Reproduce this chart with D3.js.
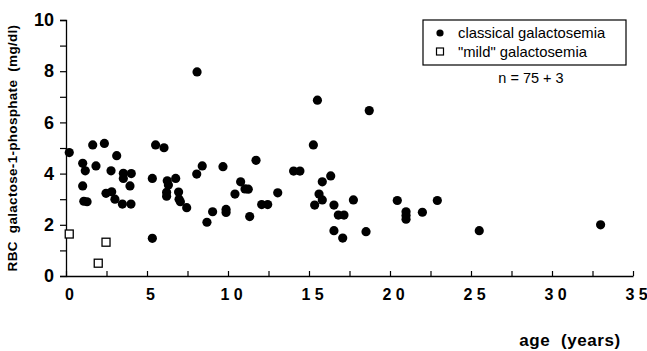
<!DOCTYPE html>
<html>
<head>
<meta charset="utf-8">
<script src="https://cdn.jsdelivr.net/npm/d3@7"></script>
<style>
  body { margin: 0; background: #fff; }
  text { font-family: "Liberation Sans", Arial, Helvetica, sans-serif; fill: #000; }
</style>
</head>
<body>
<div id="chart"></div>
<script>
// classical galactosemia (filled dots)
const classicalAge = [
  0.2, 1.03, 1.19, 1.03, 1.1, 1.3, 1.65, 1.85, 2.37, 2.47,
  2.82, 2.78, 3.13, 3.02, 3.48, 3.54, 3.54, 3.95, 4.03, 4.01,
  5.33, 5.33, 5.53, 6.05, 6.25, 6.32, 6.21, 6.21, 6.77, 6.95,
  6.98, 7.06, 7.45, 8.07, 8.09, 8.41, 8.7, 9.05, 9.69, 9.88,
  9.88, 10.43, 10.78, 11.05, 11.25, 11.34, 11.73, 12.08, 12.45, 13.07,
  14.05, 14.44, 15.27, 15.52, 15.35, 15.62, 15.82, 15.82, 16.34, 16.54,
  16.81, 17.16, 16.54, 17.08, 17.74, 18.52, 18.72, 20.45, 20.99, 20.99,
  20.99, 22.0, 22.92, 25.51, 33.0
];
const classicalValue = [
  4.82, 4.4, 4.11, 3.52, 2.92, 2.9, 5.12, 4.3, 5.18, 3.23,
  3.29, 4.11, 4.7, 3.0, 2.81, 4.01, 3.81, 3.52, 4.0, 2.81,
  3.81, 1.47, 5.12, 5.01, 3.72, 3.55, 3.27, 3.12, 3.81, 3.28,
  3.0, 2.9, 2.67, 3.98, 7.97, 4.3, 2.1, 2.51, 4.27, 2.6,
  2.48, 3.2, 3.68, 3.4, 3.39, 2.32, 4.52, 2.79, 2.79, 3.25,
  4.1, 4.1, 5.12, 6.87, 2.77, 3.2, 2.97, 3.68, 3.91, 2.77,
  2.38, 2.38, 1.77, 1.48, 2.97, 1.73, 6.46, 2.95, 2.51, 2.36,
  2.22, 2.49, 2.95, 1.77, 2.0
];
// "mild" galactosemia (open squares)
const mildAge = [0.2, 2.47, 1.99];
const mildValue = [1.64, 1.32, 0.5];

const xTickLabels = [0, 5, 10, 15, 20, 25, 30, 35];
const yTickLabels = [0, 2, 4, 6, 8, 10];
const legendLabels = ['classical galactosemia', '"mild" galactosemia'];
const nLabel = 'n = 75 + 3';

const width = 647;
const height = 351;

const svg = d3.select('#chart')
  .append('svg')
  .attr('width', width)
  .attr('height', height);

const x = d3.scaleLinear().domain([0, 35]).range([66, 633]);
const y = d3.scaleLinear().domain([0, 10]).range([276, 20]);

// y axis: ticks outward, labels on even values
const yAxis = svg.append('g')
  .attr('transform', `translate(${x(0)},0)`)
  .call(d3.axisLeft(y).tickValues(d3.range(0, 11, 1)).tickSize(6).tickFormat(d => yTickLabels.includes(d) ? d : ''));
yAxis.select('.domain').attr('stroke', '#000').attr('stroke-width', 1.3);
yAxis.selectAll('.tick line').attr('stroke', '#000').attr('stroke-width', 1.2);
yAxis.selectAll('.tick text')
  .attr('x', -12)
  .style('font-size', '18px')
  .style('font-weight', 'bold');

// x axis: ticks inward, labels every 5
const xAxis = svg.append('g')
  .attr('transform', `translate(0,${y(0)})`)
  .call(d3.axisBottom(x).tickValues(d3.range(0, 35.1, 2.5)).tickSize(-5).tickSizeOuter(0)
    .tickFormat(d => xTickLabels.includes(d) ? String(d).split('').join(' ') : ''));
xAxis.select('.domain').attr('stroke', '#000').attr('stroke-width', 1.3);
xAxis.selectAll('.tick line').attr('stroke', '#000').attr('stroke-width', 1.2);
xAxis.selectAll('.tick text')
  .attr('y', 13)
  .attr('dx', 3)
  .style('font-size', '16px')
  .style('font-weight', 'bold')
  .style('white-space', 'pre');
svg.selectAll('.tick text').attr('fill', '#000');

// axis titles
svg.append('text')
  .attr('transform', `translate(17,${(y(0) + y(10)) / 2}) rotate(-90)`)
  .attr('text-anchor', 'middle')
  .style('font-size', '13.5px')
  .style('font-weight', 'bold')
  .style('letter-spacing', '0.3px')
  .style('white-space', 'pre')
  .text('RBC  galactose-1-phosphate  (mg/dl)');

svg.append('text')
  .attr('x', 570)
  .attr('y', 346)
  .attr('text-anchor', 'middle')
  .style('font-size', '17px')
  .style('font-weight', 'bold')
  .style('letter-spacing', '0.6px')
  .style('white-space', 'pre')
  .text('age  (years)');

// points
svg.append('g')
  .selectAll('circle')
  .data(classicalAge.map((a, i) => [a, classicalValue[i]]))
  .join('circle')
  .attr('cx', d => x(d[0]))
  .attr('cy', d => y(d[1]))
  .attr('r', 4.6)
  .attr('fill', '#000');

const sq = 8;
svg.append('g')
  .selectAll('rect')
  .data(mildAge.map((a, i) => [a, mildValue[i]]))
  .join('rect')
  .attr('x', d => x(d[0]) - sq / 2)
  .attr('y', d => y(d[1]) - sq / 2)
  .attr('width', sq)
  .attr('height', sq)
  .attr('fill', '#fff')
  .attr('stroke', '#000')
  .attr('stroke-width', 1.3);

// legend
const legend = svg.append('g');
legend.append('rect')
  .attr('x', 423).attr('y', 20)
  .attr('width', 203).attr('height', 45)
  .attr('fill', 'none')
  .attr('stroke', '#000')
  .attr('stroke-width', 1.2);
legend.append('circle')
  .attr('cx', 440).attr('cy', 33)
  .attr('r', 3.6)
  .attr('fill', '#000');
legend.append('rect')
  .attr('x', 436.5).attr('y', 48)
  .attr('width', 7).attr('height', 7)
  .attr('fill', '#fff')
  .attr('stroke', '#000')
  .attr('stroke-width', 1.2);
legend.selectAll('text.lab')
  .data(legendLabels)
  .join('text')
  .attr('class', 'lab')
  .attr('x', 458)
  .attr('y', (d, i) => 38 + i * 18.5)
  .style('font-size', '14.8px')
  .text(d => d);
legend.append('text')
  .attr('x', 531)
  .attr('y', 83)
  .attr('text-anchor', 'middle')
  .style('font-size', '14.5px')
  .style('white-space', 'pre')
  .text(nLabel);
</script>
</body>
</html>
